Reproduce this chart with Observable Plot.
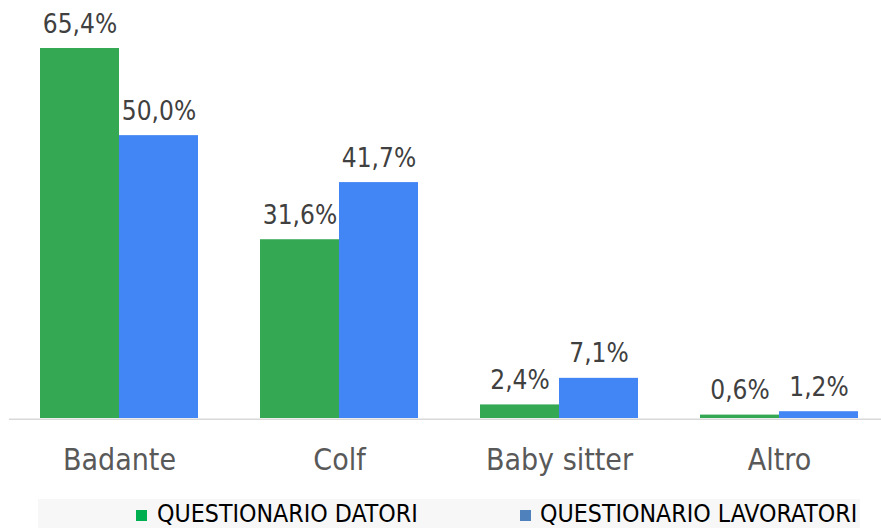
<!DOCTYPE html>
<html>
<head>
<meta charset="utf-8">
<script src="https://cdn.jsdelivr.net/npm/d3@7"></script>
<script src="https://cdn.jsdelivr.net/npm/@observablehq/plot@0.6"></script>
<style>
  body { margin: 0; background: #fff; }
  #chart { position: relative; width: 881px; height: 528px; overflow: hidden;
           font-family: "DejaVu Sans Condensed", "DejaVu Sans", sans-serif; }
  #chart svg { display: block; }
  .legend-box { position: absolute; left: 38px; top: 499px; width: 822px; height: 29px; background: #f7f7f7; }
  .legend-item { position: absolute; top: 502.5px; font-size: 24.7px; line-height: 21px; color: #000; white-space: nowrap; }
  .legend-swatch { position: absolute; width: 11px; height: 11px; top: 510px; }
</style>
</head>
<body>
<div id="chart"></div>
<script>
// Tipologia di lavoro domestico: confronto tra i due questionari
const categories = ["Badante", "Colf", "Baby sitter", "Altro"];
const series = ["QUESTIONARIO DATORI", "QUESTIONARIO LAVORATORI"];
const datori = [65.4, 31.6, 2.4, 0.6];
const lavoratori = [50.0, 41.7, 7.1, 1.2];
const barColors = ["#34A853", "#4285F4"];
const legendColors = ["#00B050", "#4F81BD"];

const rows = categories.flatMap((c, i) => [
  {category: c, series: series[0], value: datori[i]},
  {category: c, series: series[1], value: lavoratori[i]}
]);

const pct = v => v.toFixed(1).replace(".", ",") + "%";

const chart = Plot.plot({
  width: 881,
  height: 499,
  marginTop: 0,
  marginLeft: 0,
  marginRight: 0,
  marginBottom: 81,
  style: {fontFamily: "'DejaVu Sans Condensed', 'DejaVu Sans', sans-serif", background: "transparent"},
  fx: {domain: categories, range: [8.2, 889.8], paddingInner: 0.282, paddingOuter: 0.141, label: null},
  x: {domain: series, padding: 0, axis: null},
  y: {domain: [0, 70], range: [418, 22], axis: null},
  color: {domain: series, range: barColors},
  marks: [
    Plot.barY(rows, {fx: "category", x: "series", y: "value", fill: "series"}),
    Plot.ruleY([0], {stroke: "#d9d9d9", strokeWidth: 1.5, insetLeft: -31.1, insetRight: -31.1, dy: 0.75}),
    Plot.text(rows, {
      fx: "category", x: "series", y: "value", text: d => pct(d.value),
      lineAnchor: "bottom", dy: -16, fontSize: 26, fill: "#404040"
    }),
    Plot.axisFx({anchor: "bottom", tickSize: 0, tickPadding: 30, fontSize: 30, color: "#595959", label: null})
  ]
});

const root = document.getElementById("chart");
root.appendChild(chart);

// Legend below the plot
const box = document.createElement("div");
box.className = "legend-box";
root.appendChild(box);
const swatchX = [136, 520];
const textX = [157, 540];
series.forEach((s, i) => {
  const sw = document.createElement("div");
  sw.className = "legend-swatch";
  sw.style.left = swatchX[i] + "px";
  sw.style.background = legendColors[i];
  root.appendChild(sw);
  const t = document.createElement("div");
  t.className = "legend-item";
  t.style.left = textX[i] + "px";
  t.textContent = s;
  root.appendChild(t);
});
</script>
</body>
</html>
